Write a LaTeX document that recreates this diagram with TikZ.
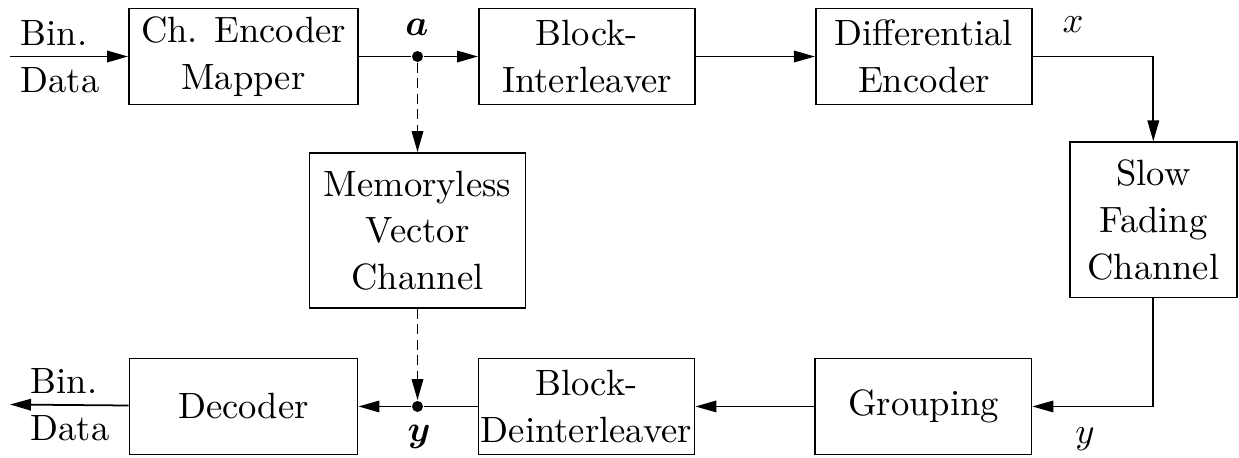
\RequirePackage{fix-cm}
\documentclass[tikz,border=0pt]{standalone}
\usepackage{amsmath}
\usetikzlibrary{arrows.meta, positioning}

\begin{document}
\begin{tikzpicture}[
    x=0.01cm, y=-0.01cm,
    font=\fontsize{10.4}{13.3}\selectfont,
    line width=0.5pt,
    node distance=1.19cm and 1.19cm,
    block/.style={draw, align=center, inner sep=0pt, minimum width=2.16cm, minimum height=0.96cm},
    tap/.style={circle, fill, inner sep=0pt, minimum size=0.11cm},
    tapline/.style={->, dash pattern=on 2.8pt off 1.6pt},
    >={Triangle[length=2.1mm, width=1.15mm]},
  ]
  \useasboundingbox (0,0) rectangle (1239,457);
  % transmitter chain
  \node[block, minimum width=2.29cm] (enc) at (243.5,56.5) {Ch. Encoder\\Mapper};
  \node[block, right=of enc] (inter) {Block-\\Interleaver};
  \node[block, right=of inter] (diff) {Differential\\Encoder};
  \node[block, minimum width=1.67cm, minimum height=1.55cm, below right=0.36cm and 0.36cm of diff] (fade) {Slow\\Fading\\Channel};
  % receiver chain
  \node[block, minimum width=2.28cm, below=2.52cm of enc] (dec) {Decoder};
  \node[block, right=of dec] (deint) {Block-\\Deinterleaver};
  \node[block, right=of deint] (group) {Grouping};
  % equivalent channel
  \node[block, minimum height=1.55cm] (mem) at (417.5,230.5) {Memoryless\\Vector\\Channel};
  \node[tap] (tapA) at (mem.north |- enc.east) {};
  \node[tap] (tapY) at (mem.south |- dec.east) {};
  \coordinate (dataIn) at (10,56.5);
  \coordinate (dataOut) at (10,404.5);
  % labels
  \node[align=left] (binIn) at (60,57) {Bin.\\Data};
  \node[align=left] (binOut) at (70,405) {Bin.\\Data};
  \node (lblA) at (417,27) {$\boldsymbol{a}$};
  \node (lblX) at (1073,25) {$x$};
  \node (lblY) at (1085,439) {$y$};
  \node (lblYb) at (419,437) {$\boldsymbol{y}$};
  % connections
  \draw[->] (dataIn) -- (enc);
  \draw (enc) -- (tapA);
  \draw[->] (tapA) -- (inter);
  \draw[->] (inter) -- (diff);
  \draw[->] (diff) -| (fade);
  \draw[->] (fade) |- (group);
  \draw[->] (group) -- (deint);
  \draw (deint) -- (tapY);
  \draw[->] (tapY) -- (dec);
  \draw[->] (dec) -- (dataOut);
  \draw[tapline] (tapA) -- (mem);
  \draw[tapline] (mem) -- (tapY);
\end{tikzpicture}
\end{document}
